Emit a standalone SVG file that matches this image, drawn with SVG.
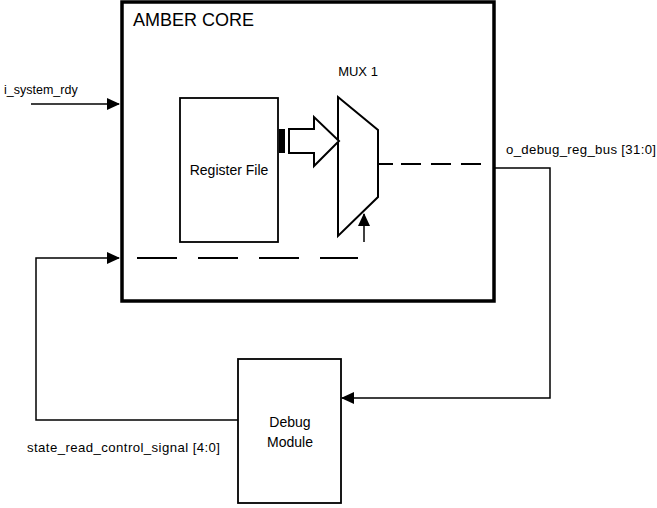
<svg xmlns="http://www.w3.org/2000/svg" width="657" height="508" viewBox="0 0 657 508">
<defs>
<marker id="ahs" markerWidth="13" markerHeight="12" refX="12" refY="6" orient="auto" markerUnits="userSpaceOnUse" viewBox="0 0 13 12">
<path d="M0,0 L13,6 L0,12 z" fill="#000"/>
</marker>
</defs>
<style>
text{font-family:"Liberation Sans",Arial,sans-serif;fill:#000}
.lbl{font-size:12.5px}
.lbw{font-size:13.2px}
.node{fill:#fff;stroke:#000}
.wire{fill:none;stroke:#000;stroke-width:1.5}
</style>
<rect width="657" height="508" fill="#fff"/>
<g id="amber-core">
<rect x="122" y="2" width="372" height="299" class="node" stroke-width="3.5"/>
<text x="133" y="26" font-size="18">AMBER CORE</text>
</g>
<g id="register-file">
<rect x="180" y="98" width="98" height="144" class="node" stroke-width="1.8"/>
<text x="229" y="175" font-size="14" text-anchor="middle">Register File</text>
</g>
<g id="mux1">
<path d="M338,97 L378,130 L378,197 L338,236 Z" class="node" stroke-width="2"/>
<text x="358" y="76" font-size="13" text-anchor="middle">MUX 1</text>
</g>
<g id="debug-module">
<rect x="238" y="359" width="103" height="144" class="node" stroke-width="1.8"/>
<text x="290" y="427" font-size="14" text-anchor="middle">Debug</text>
<text x="290" y="447" font-size="14" text-anchor="middle">Module</text>
</g>
<g id="connectors">
<rect x="279" y="129" width="6" height="24" fill="#000"/>
<path d="M289,129 L314,129 L314,117 L339,141 L314,166 L314,153 L289,153 Z" fill="#fff" stroke="#000" stroke-width="2"/>
<line x1="289" y1="129" x2="289" y2="153" stroke="#000" stroke-width="2"/>
<line x1="364" y1="242" x2="364" y2="214" class="wire" stroke-width="2" marker-end="url(#ahs)"/>
<line x1="378" y1="164" x2="393" y2="164" stroke="#000" stroke-width="2"/>
<line x1="401" y1="164" x2="481" y2="164" stroke="#000" stroke-width="2" stroke-dasharray="20 10"/>
<line x1="137" y1="258" x2="358" y2="258" stroke="#000" stroke-width="2" stroke-dasharray="40 21"/>
<line x1="31" y1="104" x2="119" y2="104" class="wire" marker-end="url(#ahs)"/>
<text x="4" y="94" class="lbl">i_system_rdy</text>
<polyline points="238,420 36,420 36,258 119,258" class="wire" marker-end="url(#ahs)"/>
<text x="27" y="452" class="lbw" textLength="193" lengthAdjust="spacing">state_read_control_signal [4:0]</text>
<polyline points="494,168 550,168 550,398 342,398" class="wire" marker-end="url(#ahs)"/>
<text x="506" y="154" class="lbw" textLength="150" lengthAdjust="spacing">o_debug_reg_bus [31:0]</text>
</g>
</svg>
